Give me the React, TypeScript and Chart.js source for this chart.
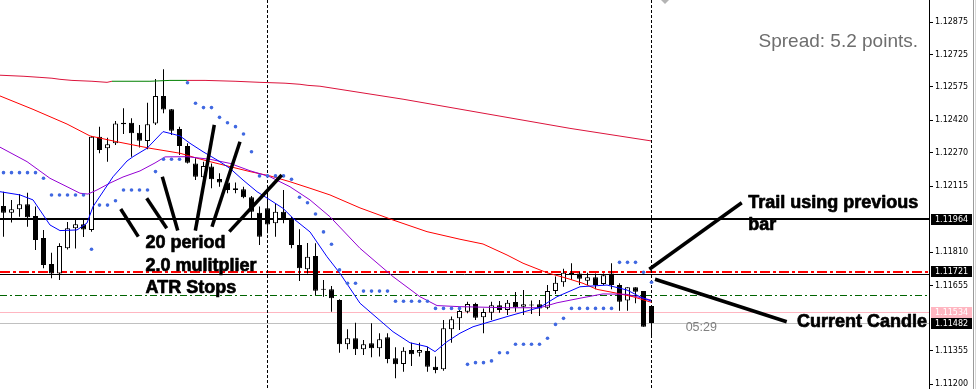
import React, { useEffect, useRef } from "react";
import { Chart, registerables } from "chart.js";

Chart.register(...registerables);

// ---- candles (EURUSD style, one per bar index) ----
const candleOpen = [
  1.12024, 1.11993, 1.12009, 1.12032, 1.11978, 1.11876, 1.11755, 1.11712, 1.11828, 1.11921,
  1.11939, 1.11913, 1.12344, 1.12291, 1.12314, 1.12409, 1.12409, 1.12363, 1.12325, 1.12406,
  1.12533, 1.12471, 1.12380, 1.12301, 1.12221, 1.12157, 1.12206, 1.12149, 1.12132, 1.12106,
  1.12101, 1.12064, 1.11993, 1.12013, 1.11944, 1.11997, 1.11967, 1.11843, 1.11731, 1.11792,
  1.11638, 1.11638, 1.11589, 1.11384, 1.11412, 1.11361, 1.11389, 1.11365, 1.11416, 1.11319,
  1.11293, 1.11358, 1.11345, 1.11353, 1.11280, 1.11268, 1.11453, 1.11504, 1.11535, 1.11570,
  1.11509, 1.11530, 1.11564, 1.11543, 1.11580, 1.11558, 1.11564, 1.11569, 1.11553, 1.11630,
  1.11671, 1.11715, 1.11712, 1.11678, 1.11694, 1.11663, 1.11712, 1.11658, 1.11586, 1.11648,
  1.11630, 1.11561,
];
const candleHigh = [
  1.12090, 1.12052, 1.12079, 1.12085, 1.12021, 1.11913, 1.11808, 1.11851, 1.11950, 1.11961,
  1.11966, 1.12348, 1.12391, 1.12340, 1.12417, 1.12476, 1.12430, 1.12399, 1.12502, 1.12611,
  1.12656, 1.12473, 1.12391, 1.12314, 1.12245, 1.12229, 1.12221, 1.12175, 1.12147, 1.12132,
  1.12113, 1.12070, 1.12021, 1.12089, 1.12036, 1.12098, 1.11974, 1.11916, 1.11853, 1.11851,
  1.11681, 1.11654, 1.11592, 1.11453, 1.11484, 1.11404, 1.11481, 1.11435, 1.11435, 1.11370,
  1.11370, 1.11391, 1.11391, 1.11373, 1.11327, 1.11496, 1.11512, 1.11553, 1.11581, 1.11576,
  1.11550, 1.11581, 1.11584, 1.11589, 1.11626, 1.11635, 1.11586, 1.11589, 1.11658, 1.11697,
  1.11734, 1.11759, 1.11720, 1.11715, 1.11712, 1.11712, 1.11759, 1.11666, 1.11648, 1.11648,
  1.11630, 1.11561,
];
const candleLow = [
  1.11882, 1.11947, 1.11974, 1.11928, 1.11820, 1.11736, 1.11689, 1.11681, 1.11823, 1.11827,
  1.11880, 1.11905, 1.12268, 1.12229, 1.12306, 1.12357, 1.12252, 1.12295, 1.12286, 1.12399,
  1.12453, 1.12352, 1.12260, 1.12221, 1.12144, 1.12136, 1.12106, 1.12113, 1.12083, 1.12083,
  1.12060, 1.11959, 1.11843, 1.11898, 1.11882, 1.11944, 1.11828, 1.11677, 1.11712, 1.11612,
  1.11604, 1.11535, 1.11345, 1.11361, 1.11334, 1.11334, 1.11324, 1.11327, 1.11296, 1.11227,
  1.11257, 1.11284, 1.11327, 1.11257, 1.11250, 1.11262, 1.11391, 1.11450, 1.11527, 1.11496,
  1.11435, 1.11496, 1.11530, 1.11519, 1.11535, 1.11519, 1.11524, 1.11515, 1.11546, 1.11617,
  1.11650, 1.11681, 1.11658, 1.11658, 1.11638, 1.11658, 1.11638, 1.11539, 1.11539, 1.11574,
  1.11465, 1.11419,
];
const candleClose = [
  1.11993, 1.12009, 1.12032, 1.11972, 1.11866, 1.11751, 1.11712, 1.11839, 1.11921, 1.11939,
  1.11915, 1.12344, 1.12283, 1.12309, 1.12406, 1.12402, 1.12360, 1.12326, 1.12402, 1.12533,
  1.12470, 1.12372, 1.12301, 1.12224, 1.12159, 1.12209, 1.12147, 1.12132, 1.12098, 1.12098,
  1.12064, 1.11997, 1.11882, 1.11938, 1.11997, 1.11959, 1.11843, 1.11736, 1.11789, 1.11632,
  1.11636, 1.11597, 1.11384, 1.11412, 1.11361, 1.11384, 1.11365, 1.11407, 1.11316, 1.11291,
  1.11354, 1.11338, 1.11358, 1.11280, 1.11265, 1.11458, 1.11500, 1.11538, 1.11570, 1.11507,
  1.11533, 1.11564, 1.11543, 1.11576, 1.11555, 1.11569, 1.11563, 1.11550, 1.11630, 1.11669,
  1.11715, 1.11708, 1.11687, 1.11694, 1.11658, 1.11703, 1.11658, 1.11581, 1.11648, 1.11627,
  1.11465, 1.11482,
];

// ---- ATR trailing stop (20 period, 2.0 multiplier), one dot per bar ----
const atrStops = [
  1.12178, 1.12178, 1.12178, 1.12178, 1.12178, 1.12152, 1.12075, 1.12075, 1.12075, 1.12075,
  1.12075, 1.11824, 1.12028, 1.12028, 1.12048, 1.12098, 1.12098, 1.12098, 1.12098, 1.12183,
  1.12240, 1.12240, 1.12240, 1.12594, 1.12499, 1.12479, 1.12479, 1.12434, 1.12409, 1.12391,
  1.12357, 1.12275, 1.12163, 1.12163, 1.12163, 1.12163, 1.12147, 1.12064, 1.12039, 1.11987,
  1.11904, 1.11847, 1.11728, 1.11666, 1.11666, 1.11630, 1.11630, 1.11630, 1.11630, 1.11583,
  1.11583, 1.11583, 1.11583, 1.11583, 1.11550, 1.11550, 1.11550, 1.11550, 1.11291, 1.11299,
  1.11299, 1.11307, 1.11345, 1.11345, 1.11384, 1.11384, 1.11384, 1.11384, 1.11412, 1.11476,
  1.11504, 1.11550, 1.11550, 1.11550, 1.11550, 1.11550, 1.11550, 1.11763, 1.11763, 1.11763,
  1.11717, 1.11671,
];

// ---- moving averages (bar index, price) ----
const maSlowIdx = [-0.44, 2.56, 4.56, 6.06, 7.06, 8.56, 11.06, 12.94, 13.56, 18.31, 20.81, 22.94, 25.19, 28.94, 32.06, 35.19, 37.06, 38.06, 39.56, 49.94, 60.44, 70.81, 80.94];
const maSlowVal = [1.12629, 1.12624, 1.12619, 1.12615, 1.1261, 1.12605, 1.12601, 1.12596, 1.12601, 1.12601, 1.12605, 1.12605, 1.12605, 1.12601, 1.12596, 1.12592, 1.12587, 1.12582, 1.12578, 1.12518, 1.1245, 1.12383, 1.12325];
const maSlowGreenFrom = 13.56;
const maSlowGreenTo = 22.94;

const maMidIdx = [-0.44, 3.69, 7.94, 10.81, 14.19, 18.31, 22.06, 24.19, 25.81, 28.31, 30.81, 33.31, 35.81, 38.31, 40.81, 44.56, 48.69, 52.94, 57.06, 59.94, 62.94, 64.94, 67.94, 70.44, 72.44, 74.19, 76.69, 78.69, 81.0];
const maMidVal = [1.12533, 1.12471, 1.12403, 1.12348, 1.12321, 1.12291, 1.12268, 1.12245, 1.12229, 1.12206, 1.12183, 1.12163, 1.12136, 1.12106, 1.12075, 1.12015, 1.11959, 1.11905, 1.1187, 1.11848, 1.11797, 1.11759, 1.11715, 1.11689, 1.11666, 1.11638, 1.1162, 1.11604, 1.11578];

const maPurpleIdx = [-0.44, 2.94, 5.81, 7.94, 9.56, 10.56, 11.69, 13.31, 14.94, 17.06, 18.94, 20.19, 22.94, 25.81, 28.31, 30.81, 33.31, 35.81, 38.31, 40.81, 44.56, 48.69, 52.06, 54.19, 57.06, 62.94, 67.06, 69.19, 72.06, 74.94, 77.94, 79.94, 80.94];
const maPurpleVal = [1.12296, 1.12229, 1.12152, 1.12113, 1.12083, 1.12079, 1.12098, 1.1213, 1.12158, 1.12186, 1.12223, 1.12251, 1.12252, 1.1224, 1.12221, 1.12187, 1.12159, 1.12113, 1.12052, 1.11974, 1.11828, 1.11697, 1.11604, 1.11563, 1.11558, 1.11553, 1.11553, 1.11576, 1.11597, 1.11617, 1.11615, 1.11597, 1.11589];

const maBlueIdx = [-0.44, 2.06, 3.69, 5.81, 7.06, 9.19, 10.44, 11.19, 13.69, 15.44, 16.19, 17.94, 19.94, 20.81, 22.06, 23.31, 24.94, 26.69, 28.31, 29.94, 31.69, 33.31, 34.94, 36.19, 38.31, 40.44, 42.06, 44.56, 48.69, 50.81, 52.94, 53.94, 55.44, 57.06, 58.69, 62.94, 67.06, 69.19, 72.06, 75.44, 77.94, 79.56, 80.94];
const maBlueVal = [1.1209, 1.12075, 1.12052, 1.11936, 1.1191, 1.11913, 1.11945, 1.12021, 1.12159, 1.12232, 1.12252, 1.12291, 1.12368, 1.1236, 1.12348, 1.12314, 1.12275, 1.12237, 1.12198, 1.12144, 1.1209, 1.12052, 1.12013, 1.11967, 1.11904, 1.11789, 1.11712, 1.11574, 1.11442, 1.11391, 1.11373, 1.1135, 1.11396, 1.11435, 1.11465, 1.11512, 1.11555, 1.11604, 1.1165, 1.11658, 1.11635, 1.11604, 1.11584];

// ---- price axis ----
const axisTicks = [1.12875, 1.12725, 1.12575, 1.1242, 1.1227, 1.12115, 1.1181, 1.11655, 1.11355, 1.112];
const tagValues = [1.11964, 1.11721, 1.11534, 1.11482];
const tagBg = ["#000000", "#000000", "#ffb6c1", "#000000"];

// ---- horizontal levels ----
const levelValues = [1.11964, 1.11719, 1.11711, 1.11611, 1.11534, 1.11482];
const levelColors = ["#000000", "#ff0000", "#000000", "#006400", "#ffb6c1", "#c0c0c0"];
const levelWidths = [2, 2, 1, 1, 1, 1];
const levelDashes = [[], [10, 3, 3, 3], [], [7, 3, 2, 3], [], []];

// ---- vertical separators (bar index) ----
const separatorBars = [33, 81];

// ---- annotations ----
const noteTexts = ["20 period", "2.0 mulitplier", "ATR Stops", "Trail using previous", "bar", "Current Candle"];
const noteIdx = [17.75, 17.75, 17.75, 93.1, 93.1, 99.2];
const notePrice = [1.1183, 1.11723, 1.1162, 1.12013, 1.11913, 1.11465];

const pointerX0 = [14.65, 17.9, 19.85, 26.35, 29.56, 34.78, 80.73, 81.44];
const pointerY0 = [1.1201, 1.1206, 1.12159, 1.12399, 1.12321, 1.12167, 1.11731, 1.11685];
const pointerX1 = [16.85, 20.4, 21.78, 23.98, 26.06, 28.23, 92.28, 97.9];
const pointerY1 = [1.11882, 1.11921, 1.1191, 1.1191, 1.11928, 1.11905, 1.12039, 1.11488];

const timerText = "05:29";
const timerIdx = 85.27;
const timerPrice = 1.11446;
const spreadText = "Spread: 5.2 points.";
const shiftMarkerIdx = 82.69;

const X_MIN = -0.4375;
const X_MAX = 115.6875;
const Y_MIN = 1.11177;
const Y_MAX = 1.12977;

const overlay = {
  id: "mt4overlay",
  beforeDatasetsDraw(chart: any) {
    const { ctx, chartArea: a, scales } = chart;
    const x = scales.x;
    const y = scales.y;
    ctx.save();
    ctx.beginPath();
    ctx.rect(a.left, a.top, a.right - a.left, a.bottom - a.top);
    ctx.clip();
    levelValues.forEach((v, i) => {
      const w = levelWidths[i];
      let py = Math.round(y.getPixelForValue(v));
      if (w % 2 === 1) py += 0.5;
      ctx.beginPath();
      ctx.setLineDash(levelDashes[i]);
      ctx.strokeStyle = levelColors[i];
      ctx.lineWidth = w;
      ctx.moveTo(a.left, py);
      ctx.lineTo(a.right, py);
      ctx.stroke();
    });
    ctx.setLineDash([3, 2]);
    ctx.strokeStyle = "#000";
    ctx.lineWidth = 1;
    separatorBars.forEach((b) => {
      const px = Math.floor(x.getPixelForValue(b)) + 0.5;
      ctx.beginPath();
      ctx.moveTo(px, a.top);
      ctx.lineTo(px, a.bottom);
      ctx.stroke();
    });
    ctx.restore();
  },
  afterDatasetsDraw(chart: any) {
    const { ctx, chartArea: a, scales } = chart;
    const x = scales.x;
    const y = scales.y;
    ctx.save();
    // pointer lines
    ctx.strokeStyle = "#000";
    ctx.lineWidth = 3.5;
    ctx.lineCap = "butt";
    pointerX0.forEach((_, i) => {
      ctx.beginPath();
      ctx.moveTo(x.getPixelForValue(pointerX0[i]), y.getPixelForValue(pointerY0[i]));
      ctx.lineTo(x.getPixelForValue(pointerX1[i]), y.getPixelForValue(pointerY1[i]));
      ctx.stroke();
    });
    // annotation text
    ctx.font = 'bold 18px "Liberation Sans", Arial, sans-serif';
    ctx.textAlign = "left";
    ctx.textBaseline = "alphabetic";
    ctx.fillStyle = "#000";
    ctx.strokeStyle = "#000";
    ctx.lineWidth = 0.7;
    ctx.lineJoin = "round";
    noteTexts.forEach((t, i) => {
      const px = x.getPixelForValue(noteIdx[i]);
      const py = y.getPixelForValue(notePrice[i]);
      ctx.fillText(t, px, py);
      ctx.strokeText(t, px, py);
    });
    // candle timer
    ctx.font = '12.5px "Liberation Sans", Arial, sans-serif';
    ctx.fillStyle = "#808080";
    ctx.fillText(timerText, x.getPixelForValue(timerIdx), y.getPixelForValue(timerPrice));
    // spread label
    ctx.font = '19px "Liberation Sans", Arial, sans-serif';
    ctx.fillStyle = "#6e6e6e";
    ctx.textAlign = "right";
    ctx.fillText(spreadText, a.right - 11, a.top + 46.5);
    ctx.restore();
  },
  afterDraw(chart: any) {
    const { ctx, chartArea: a, scales, width, height } = chart;
    const x = scales.x;
    const y = scales.y;
    ctx.save();
    ctx.font = '8px "DejaVu Sans", sans-serif';
    ctx.textAlign = "left";
    ctx.textBaseline = "middle";
    tagValues.forEach((v, i) => {
      const py = Math.round(y.getPixelForValue(v));
      ctx.fillStyle = tagBg[i];
      ctx.fillRect(a.right + 2, py - 5, 41, 11);
      ctx.fillStyle = "#ffffff";
      ctx.fillText(v.toFixed(5), a.right + 6, py + 0.5);
    });
    // shift marker
    const sx = x.getPixelForValue(shiftMarkerIdx);
    ctx.fillStyle = "#b4b4b4";
    ctx.beginPath();
    ctx.moveTo(sx - 4, a.top);
    ctx.lineTo(sx + 4, a.top);
    ctx.lineTo(sx, a.top + 4);
    ctx.closePath();
    ctx.fill();
    // window frame
    ctx.fillStyle = "#9a9a9a";
    ctx.fillRect(width - 3, 0, 1, height);
    ctx.fillStyle = "#d8d8d8";
    ctx.fillRect(width - 1, 0, 1, height);
    ctx.restore();
  },
};

export default function App() {
  const ref = useRef<HTMLCanvasElement>(null);
  useEffect(() => {
    const canvas = ref.current as HTMLCanvasElement;
    const bars = candleOpen.map((_, i) => i);
    const wickData = bars.map((i) => ({ x: i, y: [candleLow[i], candleHigh[i]] }));
    const bodyData = bars.map((i) => ({ x: i, y: [candleOpen[i], candleClose[i]] }));
    const bodyColors = bars.map((i) => (candleClose[i] >= candleOpen[i] ? "#ffffff" : "#000000"));
    const pts = (xs: number[], ys: number[]) => xs.map((v, i) => ({ x: v, y: ys[i] }));
    const lineBase = { type: "line", borderWidth: 1, pointRadius: 0, tension: 0, fill: false };
    const chart = new Chart(canvas, {
      type: "bar",
      data: {
        datasets: [
          { type: "bar", data: wickData, backgroundColor: "#000000", borderWidth: 0, barThickness: 1, grouped: false, inflateAmount: 0, order: 10 },
          { type: "bar", data: bodyData, backgroundColor: bodyColors, borderColor: "#000000", borderWidth: 1, borderSkipped: false, barThickness: 5, grouped: false, minBarLength: 1, inflateAmount: 0, order: 9 },
          {
            ...lineBase,
            data: pts(maSlowIdx, maSlowVal),
            borderColor: "#dc143c",
            order: 5,
            segment: {
              borderColor: (c: any) =>
                c.p0.parsed.x >= maSlowGreenFrom - 1e-6 && c.p1.parsed.x <= maSlowGreenTo + 1e-6 ? "#008000" : undefined,
            },
          },
          { ...lineBase, data: pts(maMidIdx, maMidVal), borderColor: "#ff0000", order: 4 },
          { ...lineBase, data: pts(maPurpleIdx, maPurpleVal), borderColor: "#9400d3", order: 3 },
          { ...lineBase, data: pts(maBlueIdx, maBlueVal), borderColor: "#0000ff", order: 2 },
          {
            type: "line",
            data: bars.map((i) => ({ x: i, y: atrStops[i] })),
            showLine: false,
            pointRadius: 1.8,
            pointBackgroundColor: "#4169e1",
            pointBorderWidth: 0,
            order: 1,
          },
        ] as any,
      },
      options: {
        animation: false,
        responsive: false,
        devicePixelRatio: 1,
        events: [],
        layout: { padding: 0, autoPadding: false },
        plugins: { legend: { display: false }, tooltip: { enabled: false }, title: { display: false } },
        scales: {
          x: { type: "linear", display: false, min: X_MIN, max: X_MAX, offset: false },
          y: {
            type: "linear",
            position: "right",
            min: Y_MIN,
            max: Y_MAX,
            afterBuildTicks: (s: any) => {
              s.ticks = axisTicks.map((v) => ({ value: v }));
            },
            afterFit: (s: any) => {
              s.width = 47;
              s.paddingTop = 0;
              s.paddingBottom = 0;
            },
            border: { display: true, color: "#000000", width: 1 },
            grid: { display: true, drawOnChartArea: false, drawTicks: true, tickLength: 4, color: "#000000" },
            ticks: {
              autoSkip: false,
              padding: 2,
              color: "#000000",
              font: { family: '"DejaVu Sans", sans-serif', size: 8 },
              callback: (v: any) => Number(v).toFixed(5),
            },
          },
        },
      } as any,
      plugins: [overlay],
    });
    return () => chart.destroy();
  }, []);
  return (
    <div style={{ position: "absolute", left: 0, top: 0, width: 976, height: 389, background: "#ffffff" }}>
      <canvas ref={ref} width={976} height={389} style={{ display: "block", width: 976, height: 389 }} />
    </div>
  );
}
